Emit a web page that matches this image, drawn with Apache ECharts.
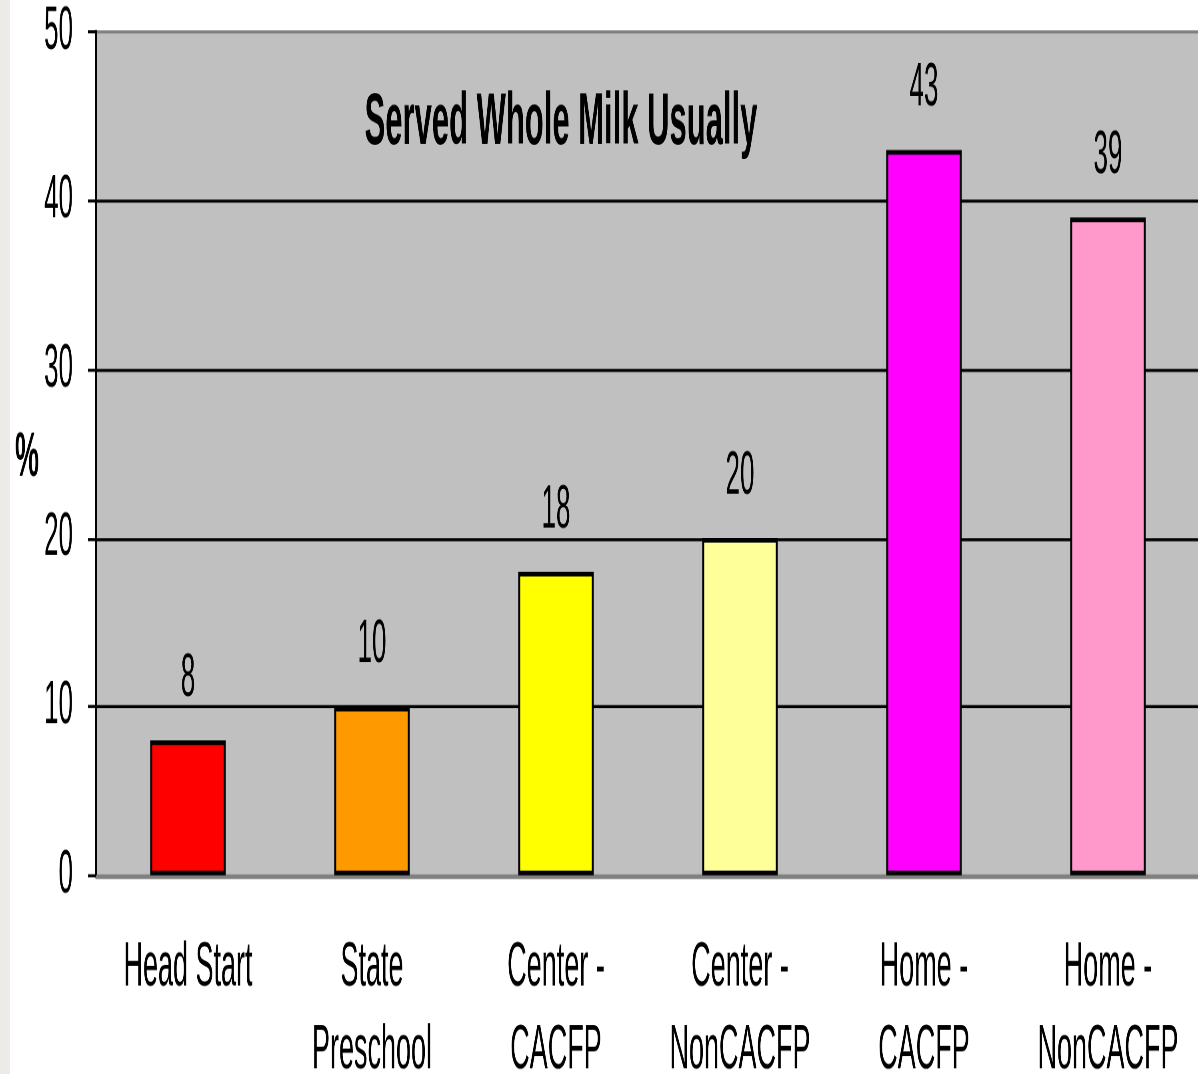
<!DOCTYPE html>
<html>
<head>
<meta charset="utf-8">
<title>Served Whole Milk Usually</title>
<script src="https://cdn.jsdelivr.net/npm/echarts@6/dist/echarts.min.js"></script>
<style>
  html, body { margin: 0; padding: 0; background: #ffffff; overflow: hidden; }
  #frame { position: relative; width: 1198px; height: 1074px; overflow: hidden; }
  /* The chart is laid out at reduced height and stretched vertically for tall, narrow lettering */
  #chart { position: absolute; left: 0; top: 0; width: 1200px; height: 457px; transform: scaleY(2.35); transform-origin: 0 0; }
</style>
</head>
<body>
<div id="frame"><div id="chart"></div></div>
<script>
const categories = ['Head Start', 'State\nPreschool', 'Center -\nCACFP', 'Center -\nNonCACFP', 'Home -\nCACFP', 'Home -\nNonCACFP'];
const percentServed = [8, 10, 18, 20, 43, 39];
const barColors = ['#ff0000', '#ff9900', '#ffff00', '#ffff99', '#ff00ff', '#ff99cc'];
const yMin = 0, yMax = 50, yStep = 10;

const FONT = '"Liberation Sans", Arial, sans-serif';

const chart = echarts.init(document.getElementById('chart'), null, { renderer: 'canvas', devicePixelRatio: 2.5 });

chart.setOption({
  backgroundColor: '#ffffff',
  animation: false,
  title: {
    text: 'Served Whole Milk Usually',
    left: 556,
    top: 32,
    textAlign: 'center',
    textStyle: { fontFamily: FONT, fontSize: 31, fontWeight: 'bold', color: '#000000' }
  },
  graphic: [
    { type: 'rect', left: 0, top: 0, shape: { width: 10, height: 457 }, style: { fill: '#ecebe8' }, silent: true },
    { type: 'text', x: 27, y: 195, style: { text: '%', fontFamily: FONT, fontSize: 27, fontWeight: 'bold', fill: '#000000', align: 'center', verticalAlign: 'middle' } }
  ],
  grid: {
    left: 96, right: 0, top: 13.6, bottom: 84.7,
    outerBoundsMode: 'none',
    show: true, backgroundColor: '#c0c0c0', borderWidth: 0
  },
  xAxis: {
    type: 'category',
    data: categories,
    axisLine: { show: true, onZero: false, lineStyle: { color: '#808080', width: 1.7 } },
    axisTick: { show: false },
    axisLabel: {
      interval: 0, margin: 22,
      fontFamily: FONT, fontSize: 27, lineHeight: 35, color: '#000000'
    },
    splitLine: { show: false }
  },
  yAxis: {
    type: 'value',
    min: yMin, max: yMax, interval: yStep,
    axisLine: { show: true, lineStyle: { color: '#000000', width: 2 } },
    axisTick: { show: true, inside: false, length: 8, lineStyle: { color: '#000000', width: 1.3 } },
    axisLabel: { margin: 23, fontFamily: FONT, fontSize: 26, color: '#000000' },
    splitLine: {
      show: true,
      lineStyle: { color: ['#808080', '#000000', '#000000', '#000000', '#000000', '#808080'], width: 1.3 }
    }
  },
  series: [{
    type: 'bar',
    data: percentServed.map((v, i) => ({ value: v, itemStyle: { color: barColors[i] } })),
    barWidth: '41%',
    itemStyle: { borderColor: '#000000', borderWidth: 2 },
    label: {
      show: true, position: 'top', distance: 13,
      fontFamily: FONT, fontSize: 26, color: '#000000'
    }
  }]
});
</script>
</body>
</html>
